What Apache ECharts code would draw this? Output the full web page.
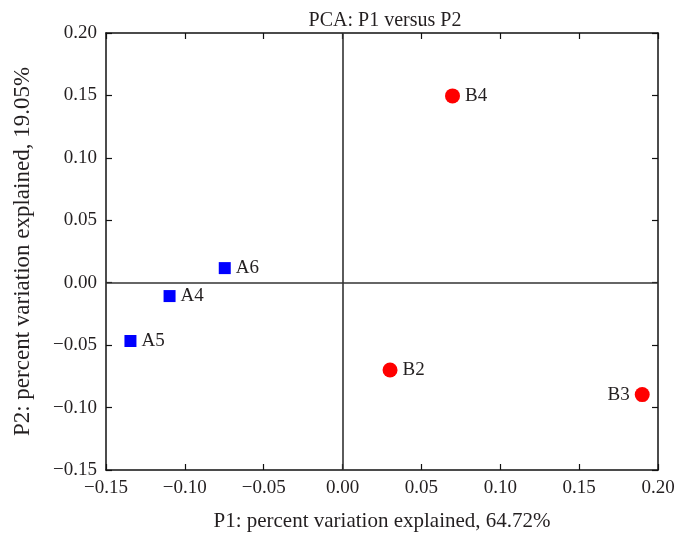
<!DOCTYPE html>
<html>
<head>
<meta charset="utf-8">
<script src="https://cdn.jsdelivr.net/npm/echarts@6/dist/echarts.min.js"></script>
<style>html,body{margin:0;padding:0;background:#fff}#c{width:689px;height:546px}</style>
</head>
<body>
<div id="c"></div>
<script>
const titleText = 'PCA: P1 versus P2';
const xAxisTitle = 'P1: percent variation explained, 64.72%';
const yAxisTitle = 'P2: percent variation explained, 19.05%';
const xMin = -0.15, xMax = 0.20, xStep = 0.05;
const yMin = -0.15, yMax = 0.20, yStep = 0.05;

const groupANames = ['A6', 'A4', 'A5'];
const groupAX = [-0.0747, -0.1097, -0.1345];
const groupAY = [0.0117, -0.0107, -0.0467];

const groupBNames = ['B4', 'B2', 'B3'];
const groupBX = [0.0697, 0.0301, 0.19];
const groupBY = [0.1496, -0.0699, -0.0896];
const groupBLabelSide = ['right', 'right', 'left'];

const FONT = '"Liberation Serif", "DejaVu Serif", serif';
const TXT = '#231f20';

function fmt(v) {
  const s = Math.abs(v).toFixed(2);
  return (v < -1e-9 ? '\u2212' : '') + s;
}

const baseAxis = {
  axisLine: { show: true, onZero: false, lineStyle: { color: '#111', width: 1.5 } },
  axisTick: { show: true, inside: true, length: 6, lineStyle: { color: '#111', width: 1.2 } },
  splitLine: { show: false }
};

const chart = echarts.init(document.getElementById('c'), null, { renderer: 'canvas' });
chart.setOption({
  animation: false,
  backgroundColor: '#fff',
  title: {
    text: titleText, left: 380, top: 6, textAlign: 'center',
    textStyle: { fontFamily: FONT, fontWeight: 'normal', fontSize: 20, color: TXT }
  },
  grid: { left: 106, right: 31, top: 33, bottom: 76, containLabel: false },
  xAxis: [
    Object.assign({}, baseAxis, {
      type: 'value', position: 'bottom', min: xMin, max: xMax, interval: xStep,
      axisLabel: { formatter: fmt, fontFamily: FONT, fontSize: 19, color: TXT, margin: 9 },
      name: xAxisTitle, nameLocation: 'middle', nameGap: 41,
      nameTextStyle: { fontFamily: FONT, fontSize: 21, color: TXT }
    }),
    Object.assign({}, baseAxis, {
      type: 'value', position: 'top', min: xMin, max: xMax, interval: xStep,
      axisLabel: { show: false }
    })
  ],
  yAxis: [
    Object.assign({}, baseAxis, {
      type: 'value', position: 'left', min: yMin, max: yMax, interval: yStep,
      axisLabel: { formatter: fmt, fontFamily: FONT, fontSize: 19, color: TXT, margin: 9 },
      name: yAxisTitle, nameLocation: 'middle', nameGap: 72, nameRotate: 90,
      nameTextStyle: { fontFamily: FONT, fontSize: 23, color: TXT }
    }),
    Object.assign({}, baseAxis, {
      type: 'value', position: 'right', min: yMin, max: yMax, interval: yStep,
      axisLabel: { show: false }
    })
  ],
  series: [
    {
      type: 'scatter', xAxisIndex: 0, yAxisIndex: 0,
      symbol: 'rect', symbolSize: 12,
      itemStyle: { color: '#0000ff', opacity: 1 },
      label: { show: true, position: 'right', distance: 5, formatter: p => p.data.name,
        fontFamily: FONT, fontSize: 19, color: TXT },
      data: groupANames.map((n, i) => ({ name: n, value: [groupAX[i], groupAY[i]] })),
      markLine: {
        silent: true, symbol: 'none', label: { show: false },
        lineStyle: { color: '#333', width: 1.6, type: 'solid' },
        data: [{ xAxis: 0 }, { yAxis: 0 }]
      },
      z: 3
    },
    {
      type: 'scatter', xAxisIndex: 0, yAxisIndex: 0,
      symbol: 'circle', symbolSize: 15,
      itemStyle: { color: '#ff0000', opacity: 1 },
      label: { show: true, distance: 5, formatter: p => p.data.name,
        fontFamily: FONT, fontSize: 19, color: TXT },
      data: groupBNames.map((n, i) => ({
        name: n, value: [groupBX[i], groupBY[i]],
        label: { position: groupBLabelSide[i] }
      })),
      z: 3
    }
  ]
});
</script>
</body>
</html>
